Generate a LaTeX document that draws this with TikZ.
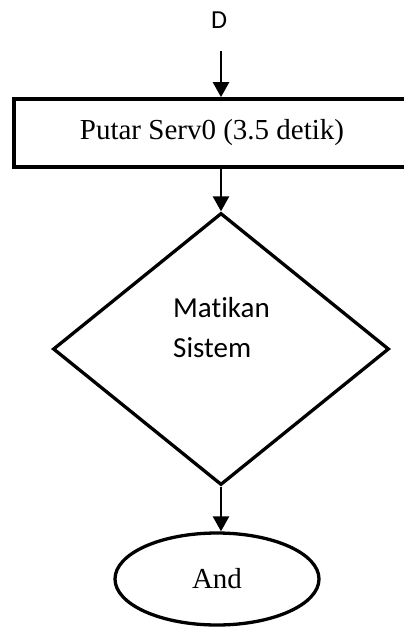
\documentclass[tikz,border=0pt]{standalone}
\usepackage{fontspec}
\setmainfont{Liberation Serif}
\newfontfamily\carl[RawFeature=-liga]{Carlito}
\usetikzlibrary{shapes.geometric,arrows.meta}
\begin{document}
\begin{tikzpicture}[x=1pt,y=-1pt,
  arr/.style={line width=2.5pt,-{Triangle[length=15pt,width=16pt]}},
  procbox/.style={draw,line width=3.7pt,rectangle,minimum width=396pt,minimum height=68pt,inner sep=0pt,font=\fontsize{29}{34}\selectfont},
  decbox/.style={draw,line width=3.3pt,diamond,minimum width=336pt,minimum height=272pt,inner sep=0pt},
  endbox/.style={draw,line width=3.3pt,ellipse,minimum width=204pt,minimum height=92pt,inner sep=0pt,font=\fontsize{29}{34}\selectfont}]
\useasboundingbox (0,0) rectangle (404,627);
\fill[white] (0,0) rectangle (404,627);
\node[font=\carl\fontsize{26}{30}\selectfont,inner sep=0pt] (D) at (219,20) {D};
\coordinate (a0) at (221,51);
\node[procbox] (r) at (212,133) {Putar Serv0 (3.5 detik)};
\node[decbox] (d) at (221,349) {};
\node[font=\carl\fontsize{29}{40}\selectfont,align=left,inner sep=0pt] (dt) at (221.5,328) {Matikan\\Sistem};
\node[endbox] (e) at (217,579) {And};
\draw[arr] (a0) -- (a0 |- r.north);
\draw[arr] (d.north |- r.south) -- (d.north);
\draw[arr] (d.south) -- (d.south |- e.north);
\end{tikzpicture}
\end{document}
